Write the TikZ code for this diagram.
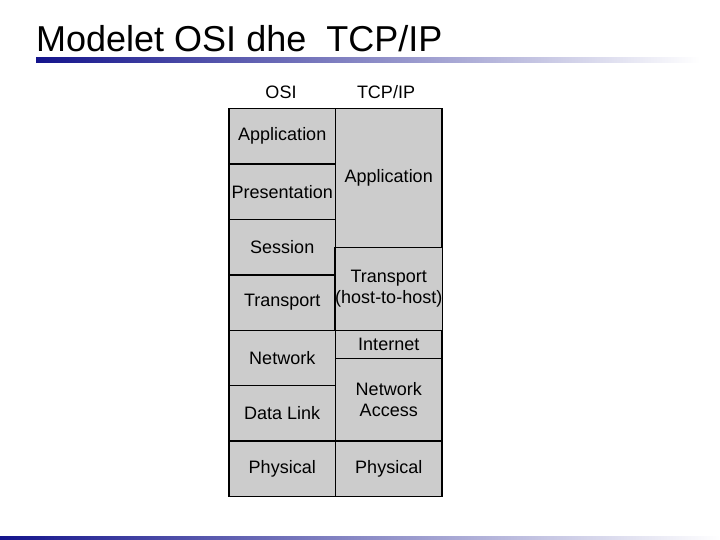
\documentclass[tikz,border=0pt]{standalone}
\usepackage{fontspec}
\setmainfont{Liberation Sans}
\usetikzlibrary{positioning}
\definecolor{TitleNavy}{RGB}{20,20,140}
\definecolor{LayerGray}{RGB}{204,204,204}
\tikzset{
  layer/.style={
    draw,
    line width=1.5pt,
    fill=LayerGray,
    outer sep=0pt,
    inner sep=0pt,
    minimum width=106.5pt,
    align=center,
    font=\fontsize{18}{21}\selectfont
  },
  osilayer/.style={
    layer,
    minimum height=55.45pt
  },
  colhead/.style={
    anchor=base,
    inner sep=0pt,
    font=\fontsize{18}{21}\selectfont
  },
  slidetitle/.style={
    anchor=base west,
    inner sep=0pt,
    font=\fontsize{36}{40}\selectfont
  },
  rule/.style={
    left color=TitleNavy,
    right color=white
  }
}

\begin{document}
\begin{tikzpicture}[x=1pt,y=-1pt]
\useasboundingbox (0,0) rectangle (720,540);

\node[slidetitle] (title) at (36,52) {Modelet OSI dhe\ \ TCP/IP};
\shade[rule] (36,58) rectangle (700,63);
\shade[rule] (0,536) rectangle (720,540);

\node[colhead] (hosi) at (281,99) {OSI};
\node[colhead] (htcp) at (386,99) {TCP/IP};

\node[osilayer] (o7) at (282.25,136.2) {Application};
\node[osilayer,below=0pt of o7] (o6) {Presentation};
\node[osilayer,below=0pt of o6] (o5) {Session};
\node[osilayer,below=0pt of o5] (o4) {Transport};
\node[osilayer,below=0pt of o4] (o3) {Network};
\node[osilayer,below=0pt of o3] (o2) {Data Link};
\node[osilayer,below=0pt of o2] (o1) {Physical};

\node[layer,minimum height=139pt,anchor=north west] (t4) at (o7.north east) {Application};
\node[layer,minimum height=83pt,below=0pt of t4] (t3) {Transport\\(host-to-host)};
\node[layer,minimum height=28pt,below=0pt of t3] (t2) {Internet};
\node[layer,minimum height=82.7pt,below=0pt of t2] (t1) {Network\\Access};
\node[layer,minimum height=55.45pt,below=0pt of t1] (t0) {Physical};

\end{tikzpicture}
\end{document}
